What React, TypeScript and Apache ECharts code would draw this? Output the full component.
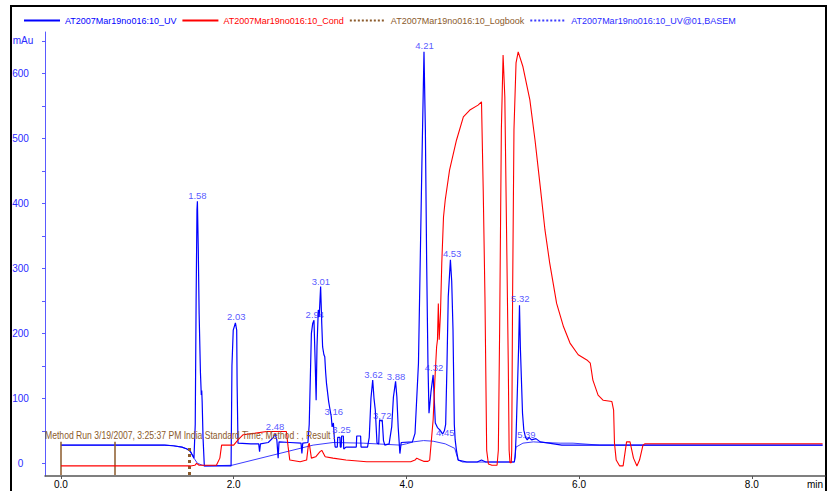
import React, { useEffect, useRef } from "react";
import * as echarts from "echarts";

const seriesNames = [
  "AT2007Mar19no016:10_UV",
  "AT2007Mar19no016:10_Cond",
  "AT2007Mar19no016:10_Logbook",
  "AT2007Mar19no016:10_UV@01,BASEM",
];

// UV trace [min, mAu]
const uvTrace: [number, number][] = [
  [0, 28], [0.6, 28], [1.2, 28], [1.3, 27], [1.4, 25], [1.46, 22], [1.5, 18], [1.54, 8],
  [1.555, 60], [1.565, 250], [1.575, 390], [1.58, 403], [1.59, 330], [1.6, 230], [1.615, 140],
  [1.625, 105], [1.63, 112], [1.635, 95], [1.645, 40], [1.66, -4], [1.8, -4], [1.97, -4],
  [1.98, 150], [1.995, 205], [2.02, 216], [2.035, 205], [2.04, 120], [2.05, 31], [2.2, 30],
  [2.29, 30], [2.3, 18], [2.31, 30], [2.4, 32], [2.46, 40], [2.48, 45], [2.5, 36], [2.515, 8],
  [2.525, 33], [2.65, 32], [2.78, 31], [2.79, 15], [2.8, 31], [2.86, 32], [2.875, 60],
  [2.9, 200], [2.915, 215], [2.93, 220], [2.945, 150], [2.955, 97], [2.965, 180], [2.98, 236],
  [2.99, 225], [3.007, 272], [3.02, 215], [3.03, 179], [3.045, 167], [3.055, 164], [3.065, 140],
  [3.075, 123], [3.1, 95], [3.11, 87], [3.13, 72], [3.14, 56], [3.155, 62], [3.165, 40],
  [3.175, 25], [3.2, 25], [3.205, 40], [3.23, 40], [3.235, 25], [3.245, 25], [3.25, 42],
  [3.27, 42], [3.275, 22], [3.3, 25], [3.42, 25], [3.425, 42], [3.47, 42], [3.475, 25],
  [3.55, 25], [3.57, 40], [3.59, 100], [3.61, 128], [3.625, 100], [3.64, 82], [3.66, 31],
  [3.68, 30], [3.69, 67], [3.71, 65], [3.72, 67], [3.735, 35], [3.75, 28], [3.8, 30],
  [3.83, 56], [3.85, 102], [3.875, 126], [3.89, 102], [3.905, 56], [3.925, 15], [3.94, 32],
  [4.07, 33], [4.1, 46], [4.14, 154], [4.18, 462], [4.204, 633], [4.22, 513], [4.235, 308],
  [4.25, 154], [4.262, 77], [4.285, 110], [4.31, 136], [4.322, 102], [4.335, 62], [4.36, 55],
  [4.39, 51], [4.42, 45], [4.44, 50], [4.455, 60], [4.47, 150], [4.485, 256], [4.51, 313],
  [4.525, 280], [4.54, 205], [4.555, 60], [4.565, 36], [4.58, 20], [4.6, 5], [4.7, 2],
  [4.82, 2], [4.87, 5], [4.92, 2], [5.1, 2], [5.25, 2], [5.26, 10], [5.27, 41], [5.3, 179],
  [5.31, 243], [5.32, 179], [5.345, 77], [5.36, 51], [5.38, 40], [5.4, 36], [5.42, 40],
  [5.45, 36], [5.5, 38], [5.55, 33], [5.65, 31], [5.8, 28], [6.5, 28], [8.82, 28],
];

// Conductivity trace [min, value]
const condTrace: [number, number][] = [
  [0, -4], [1.5, -4], [1.55, -3], [1.57, 0], [1.6, -3], [1.8, -3], [1.84, 8], [1.86, 28],
  [2.0, 28], [2.05, 36], [2.11, 44], [2.23, 46], [2.38, 49], [2.61, 49], [2.63, 26], [2.65, 5],
  [2.77, 2.5], [2.845, 5], [2.865, 28], [2.875, 31], [2.9, 8], [2.95, 10], [3.0, 18], [3.02, 20],
  [3.06, 10], [3.15, 8], [3.3, 5], [3.54, 2.5], [4.05, 2.5], [4.1, 5], [4.12, 8], [4.15, 6],
  [4.2, 3], [4.25, 3], [4.27, 5], [4.29, 36], [4.31, 67], [4.33, 128], [4.35, 179], [4.36, 190],
  [4.37, 246], [4.38, 190], [4.395, 231], [4.41, 308], [4.43, 379], [4.45, 405], [4.5, 451],
  [4.58, 497], [4.66, 533], [4.74, 544], [4.83, 551], [4.87, 556], [4.89, 420], [4.91, 256],
  [4.93, 20], [4.95, -1], [4.99, -3], [5.05, -3], [5.065, 20], [5.08, 205], [5.1, 513],
  [5.12, 628], [5.14, 564], [5.16, 359], [5.18, 154], [5.19, 20], [5.2, 1], [5.215, 1],
  [5.22, 20], [5.23, 256], [5.246, 513], [5.27, 616], [5.295, 633], [5.35, 610], [5.43, 559],
  [5.49, 497], [5.55, 426], [5.605, 359], [5.66, 308], [5.74, 246], [5.82, 210], [5.895, 185],
  [5.99, 167], [6.09, 159], [6.13, 154], [6.16, 128], [6.22, 105], [6.28, 97], [6.38, 95],
  [6.4, 82], [6.41, 31], [6.43, 5], [6.47, -4], [6.51, -4], [6.55, 33], [6.59, 33], [6.63, 8],
  [6.67, -4], [6.7, 5], [6.74, 28], [6.76, 30], [8.82, 30],
];

// Integration baseline [min, mAu]
const baselineTrace: [number, number][] = [
  [0, 28], [1.2, 28], [1.3, 27], [1.4, 25], [1.46, 22], [1.5, 18], [1.54, 8], [1.58, 0],
  [1.66, -4], [1.98, -3], [2.92, 28], [3.15, 32], [3.5, 31], [3.93, 28], [4.0, 30], [4.08, 33],
  [4.2, 35], [4.31, 34], [4.45, 30], [4.56, 23], [4.6, 5], [4.65, 2], [5.25, 2], [5.27, 25],
  [5.35, 31], [5.47, 33], [5.6, 32], [5.78, 31], [5.93, 31], [6.24, 28], [8.82, 28],
];

const logbookSolid = [0, 0.617];
const logbookDotted = [1.49];
const peakTimes = [1.58, 2.03, 2.48, 2.94, 3.01, 3.16, 3.25, 3.62, 3.72, 3.88, 4.21, 4.32, 4.45, 4.53, 5.32, 5.39];
const peakHeights = [403, 216, 48, 220, 270, 70, 43, 127, 65, 125, 633, 138, 38, 314, 245, 35];
const xTickValues = [0, 2, 4, 6, 8];
const yTickValues = [0, 100, 200, 300, 400, 500, 600];
const yMinorValues = [0, 50, 100, 150, 200, 250, 300, 350, 400, 450, 500, 550, 600, 650];
const methodText = "Method Run 3/19/2007, 3:25:37 PM India Standard Time; Method : , Result :";

const FONT = "'Liberation Sans', Arial, sans-serif";
const BLUE = "#0000ff";
const RED = "#ff0000";
const BROWN = "#8b5a2b";
const LABEL_BLUE = "#2b2bff";

export default function App() {
  const ref = useRef<HTMLDivElement>(null);
  useEffect(() => {
    if (!ref.current) return;
    const chart = echarts.init(ref.current, undefined, { renderer: "svg" });
    const logLines: any[] = [];
    logbookSolid.forEach((t) => {
      logLines.push([
        { coord: [t, -18], lineStyle: { type: "solid", width: 1.5, color: BROWN } },
        { coord: [t, 33] },
      ]);
    });
    logbookDotted.forEach((t) => {
      logLines.push([
        { coord: [t, -18], lineStyle: { type: "dotted", width: 3, color: BROWN } },
        { coord: [t, 25] },
      ]);
    });
    chart.setOption({
      animation: false,
      backgroundColor: "#ffffff",
      textStyle: { fontFamily: FONT },
      legend: {
        top: 11,
        left: 18,
        itemWidth: 36,
        itemHeight: 10,
        itemGap: 5,
        selectedMode: false,
        itemStyle: { color: "rgba(0,0,0,0)", borderColor: "rgba(0,0,0,0)", borderWidth: 0 },
        textStyle: { fontFamily: FONT, fontSize: 9 },
        data: [
          { name: seriesNames[0], textStyle: { color: BLUE } },
          { name: seriesNames[1], textStyle: { color: RED } },
          { name: seriesNames[2], textStyle: { color: BROWN }, lineStyle: { type: "dotted" } },
          { name: seriesNames[3], textStyle: { color: LABEL_BLUE }, lineStyle: { type: "dotted" } },
        ],
      },
      grid: { left: 45, right: 5, top: 32, bottom: 15, containLabel: false },
      xAxis: {
        type: "value",
        min: -0.185,
        max: 8.848,
        axisLine: { onZero: false, lineStyle: { color: "#555555", width: 1.5 } },
        axisTick: { customValues: xTickValues, length: 3, lineStyle: { color: "#555555" } },
        axisLabel: {
          customValues: xTickValues,
          formatter: (v: number) => v.toFixed(1),
          color: "#000000",
          fontSize: 10,
          fontFamily: FONT,
          margin: 3,
        },
        splitLine: { show: false },
      },
      yAxis: {
        type: "value",
        min: -19.5,
        max: 663.5,
        axisLine: { show: true, onZero: false, lineStyle: { color: "#5a5aff", width: 1 } },
        axisTick: { show: true, customValues: yMinorValues, length: 3, lineStyle: { color: "#5a5aff" } },
        axisLabel: {
          customValues: yTickValues,
          color: LABEL_BLUE,
          fontSize: 10,
          fontFamily: FONT,
          align: "center",
          margin: 24.5,
        },
        splitLine: { show: false },
      },
      graphic: [
        {
          type: "rect",
          shape: { x: 11, y: 6, width: 815, height: 495 },
          style: { fill: "none", stroke: "#000000", lineWidth: 2 },
          silent: true,
        },
        {
          type: "text",
          x: 23,
          y: 40,
          style: { text: "mAu", fill: LABEL_BLUE, font: `10px ${FONT}`, align: "center", verticalAlign: "middle" },
        },
        {
          type: "text",
          x: 815,
          y: 484,
          style: { text: "min", fill: "#000000", font: `10px ${FONT}`, align: "center", verticalAlign: "middle" },
        },
        {
          type: "text",
          x: 45,
          y: 435,
          z: 10,
          scaleX: 0.82,
          style: { text: methodText, fill: BROWN, font: `10.5px ${FONT}`, align: "left", verticalAlign: "middle" },
        },
      ],
      series: [
        {
          name: seriesNames[3],
          type: "line",
          data: baselineTrace,
          symbol: "none",
          lineStyle: { color: "#3c3cff", width: 1 },
          itemStyle: { color: "#3c3cff" },
          z: 2,
        },
        {
          name: seriesNames[2],
          type: "line",
          data: [],
          symbol: "none",
          lineStyle: { color: BROWN, width: 1.5 },
          itemStyle: { color: BROWN },
          markLine: { symbol: "none", silent: true, label: { show: false }, data: logLines },
          z: 3,
        },
        {
          name: seriesNames[0],
          type: "line",
          data: uvTrace,
          symbol: "none",
          lineStyle: { color: BLUE, width: 1.2 },
          itemStyle: { color: BLUE },
          z: 4,
        },
        {
          name: seriesNames[1],
          type: "line",
          data: condTrace,
          symbol: "none",
          lineStyle: { color: RED, width: 1.1 },
          itemStyle: { color: RED },
          z: 5,
        },
        {
          name: "peaks",
          type: "scatter",
          symbolSize: 0,
          data: peakTimes.map((t, i) => ({ value: [t, peakHeights[i]], name: t.toFixed(2) })),
          label: {
            show: true,
            position: "top",
            distance: 1,
            formatter: (p: any) => p.name,
            color: LABEL_BLUE,
            fontSize: 9.5,
            fontFamily: FONT,
          },
          z: 6,
        },
      ],
    });
    return () => chart.dispose();
  }, []);
  return (
    <div
      ref={ref}
      style={{ position: "fixed", left: 0, top: 0, width: 830, height: 491 }}
    />
  );
}
